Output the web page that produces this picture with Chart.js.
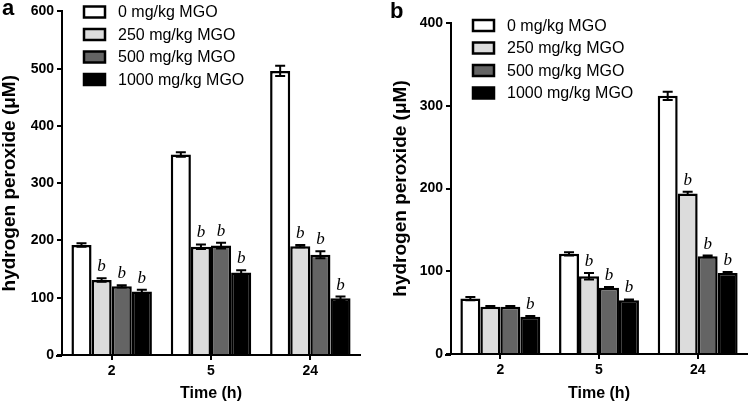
<!DOCTYPE html>
<html>
<head>
<meta charset="utf-8">
<script src="https://cdn.jsdelivr.net/npm/chart.js@4.4.1/dist/chart.umd.min.js"></script>
<style>
  html, body { margin: 0; padding: 0; background: #fff; }
  #wrap { position: relative; width: 750px; height: 403px; }
  #wrap canvas { position: absolute; top: 0; }
</style>
</head>
<body>
<div id="wrap">
  <canvas id="chartA" width="375" height="403" style="left:0"></canvas>
  <canvas id="chartB" width="375" height="403" style="left:375px"></canvas>
</div>
<script>
// Data
const timeLabels = ['2', '5', '24'];
const doseLabels = ['0 mg/kg MGO', '250 mg/kg MGO', '500 mg/kg MGO', '1000 mg/kg MGO'];
const doseColors = ['#ffffff', '#dcdcdc', '#646464', '#000000'];

// panel a
const aDose0 = [192, 350, 496];
const aDose250 = [131, 189, 190];
const aDose500 = [120, 191, 175];
const aDose1000 = [111, 144, 99];
const aErr0 = [3, 4, 9];
const aErr250 = [3, 4, 2];
const aErr500 = [2, 5, 6];
const aErr1000 = [3, 4, 3];
const aMark0 = ['', '', ''];
const aMark250 = ['b', 'b', 'b'];
const aMark500 = ['b', 'b', 'b'];
const aMark1000 = ['b', 'b', 'b'];
const aTicks = [0, 100, 200, 300, 400, 500, 600];

// panel b
const bDose0 = [67, 121, 312];
const bDose250 = [57, 94, 194];
const bDose500 = [57, 80, 118];
const bDose1000 = [45, 65, 98];
const bErr0 = [2, 2, 5];
const bErr250 = [1, 4, 2];
const bErr500 = [1, 1, 1];
const bErr1000 = [1, 1, 1];
const bMark0 = ['', '', ''];
const bMark250 = ['', 'b', 'b'];
const bMark500 = ['', 'b', 'b'];
const bMark1000 = ['b', 'b', 'b'];
const bTicks = [0, 100, 200, 300, 400];

Chart.defaults.font.family = '"Liberation Sans", Arial, sans-serif';
Chart.defaults.color = '#000';

// error bars, "b" marks, legend and panel letter
const extrasPlugin = {
    id: 'extras',
    afterDatasetsDraw(chart, args, opts) {
        const ctx = chart.ctx;
        const yScale = chart.scales.y;
        const area = chart.chartArea;
        ctx.save();

        // x axis line runs a little past the y axis
        ctx.strokeStyle = '#000';
        ctx.lineWidth = 2;
        ctx.beginPath();
        ctx.moveTo(area.left - 6, area.bottom + 1);
        ctx.lineTo(area.left, area.bottom + 1);
        ctx.stroke();

        chart.data.datasets.forEach((ds, i) => {
            const meta = chart.getDatasetMeta(i);
            meta.data.forEach((bar, j) => {
                const v = ds.data[j];
                const e = ds.errors[j];
                const yTop = yScale.getPixelForValue(v + e);
                const yBot = yScale.getPixelForValue(v - e);
                ctx.strokeStyle = '#000';
                ctx.lineWidth = 2;
                ctx.beginPath();
                ctx.moveTo(bar.x, yTop);
                ctx.lineTo(bar.x, yBot);
                ctx.moveTo(bar.x - 5, yTop);
                ctx.lineTo(bar.x + 5, yTop);
                ctx.moveTo(bar.x - 5, yBot);
                ctx.lineTo(bar.x + 5, yBot);
                ctx.stroke();
                if (ds.marks[j]) {
                    ctx.fillStyle = '#000';
                    ctx.font = 'italic 17px "Liberation Serif", "Times New Roman", serif';
                    ctx.textAlign = 'center';
                    ctx.textBaseline = 'alphabetic';
                    ctx.fillText(ds.marks[j], bar.x, yTop - 7);
                }
            });
        });

        // legend
        ctx.font = '16px "Liberation Sans", Arial, sans-serif';
        ctx.textAlign = 'left';
        ctx.textBaseline = 'middle';
        chart.data.datasets.forEach((ds, i) => {
            const cy = opts.legendY + i * 22.5;
            ctx.fillStyle = ds.backgroundColor;
            ctx.fillRect(opts.legendX, cy - 5.5, 21, 11);
            ctx.strokeStyle = '#000';
            ctx.lineWidth = 2.5;
            ctx.strokeRect(opts.legendX, cy - 5.5, 21, 11);
            ctx.fillStyle = '#000';
            ctx.fillText(ds.label, opts.legendX + 34, cy + 1);
        });

        // panel letter
        ctx.font = 'bold 22px "Liberation Sans", Arial, sans-serif';
        ctx.textBaseline = 'alphabetic';
        ctx.fillText(opts.letter, opts.letterX, opts.letterY);
        ctx.restore();
    }
};

const makeDatasets = (vals, errs, marks) => vals.map((v, i) => ({
    label: doseLabels[i],
    data: v,
    errors: errs[i],
    marks: marks[i],
    backgroundColor: doseColors[i],
    borderColor: '#000',
    borderWidth: 2.5,
    borderSkipped: 'start'
}));

const makeChart = (id, datasets, yMax, tickList, pad, yWidth, xHeight, extras) => {
    return new Chart(document.getElementById(id), {
        type: 'bar',
        data: { labels: timeLabels, datasets: datasets },
        plugins: [extrasPlugin],
        options: {
            responsive: false,
            animation: false,
            events: [],
            categoryPercentage: 0.81,
            barPercentage: 1.0,
            layout: { padding: pad },
            plugins: {
                legend: { display: false },
                tooltip: { enabled: false },
                extras: extras
            },
            scales: {
                x: {
                    grid: { display: true, drawOnChartArea: false, drawTicks: true, tickLength: 5, color: '#000', lineWidth: 2, offset: false },
                    border: { color: '#000', width: 2 },
                    ticks: { color: '#000', font: { size: 14, weight: 'bold' }, padding: 3 },
                    title: { display: true, text: 'Time (h)', color: '#000', font: { size: 16, weight: 'bold', lineHeight: 1.2 }, padding: { top: 0, bottom: 0 } },
                    afterFit: s => { s.height = xHeight; }
                },
                y: {
                    min: 0,
                    max: yMax,
                    afterBuildTicks: s => { s.ticks = tickList.map(v => ({ value: v })); },
                    grid: { display: true, drawOnChartArea: false, drawTicks: true, tickLength: 5, color: '#000', lineWidth: 2 },
                    border: { color: '#000', width: 2 },
                    ticks: { color: '#000', font: { size: 14, weight: 'bold' }, padding: 3 },
                    title: { display: true, text: 'hydrogen peroxide (\u03bcM)', color: '#000', font: { size: 19, weight: 'bold', lineHeight: 1.0 }, padding: { top: 0, bottom: 0 } },
                    afterFit: s => { s.width = yWidth; }
                }
            }
        }
    });
};

makeChart('chartA',
    makeDatasets([aDose0, aDose250, aDose500, aDose1000], [aErr0, aErr250, aErr500, aErr1000], [aMark0, aMark250, aMark500, aMark1000]),
    600, aTicks, { top: 7, right: 15, left: 0, bottom: 0 }, 62, 48,
    { legendX: 84, legendY: 12, letter: 'a', letterX: 2, letterY: 15 });

makeChart('chartB',
    makeDatasets([bDose0, bDose250, bDose500, bDose1000], [bErr0, bErr250, bErr500, bErr1000], [bMark0, bMark250, bMark500, bMark1000]),
    400, bTicks, { top: 23, right: 3, left: 16, bottom: 0 }, 60, 49,
    { legendX: 98, legendY: 25.5, letter: 'b', letterX: 15, letterY: 18 });
</script>
</body>
</html>
